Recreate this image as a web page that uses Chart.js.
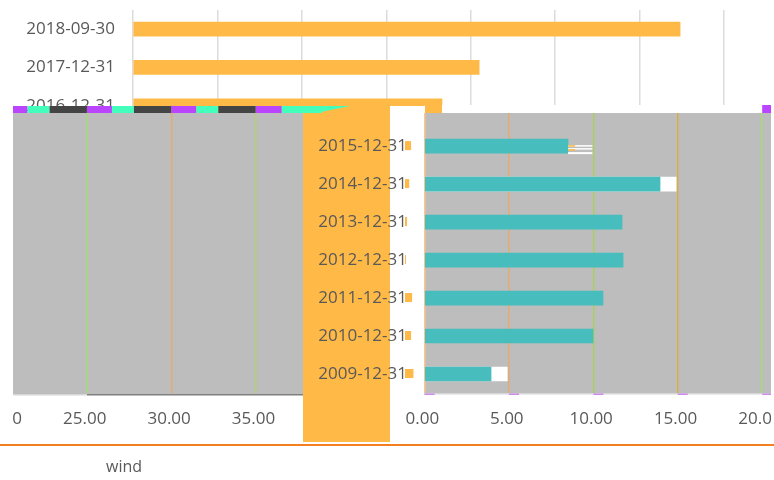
<!DOCTYPE html>
<html>
<head>
<meta charset="utf-8">
<script src="https://cdn.jsdelivr.net/npm/chart.js@4/dist/chart.umd.js"></script>
<style>
  body { margin: 0; background: #fff; overflow: hidden; }
  canvas { position: absolute; left: 0; top: 0; }
  #legendText { position: absolute; left: 106px; top: 455px; font: 16px "Open Sans"; color: #595959; }
</style>
</head>
<body>
<canvas id="backChart" width="774" height="480"></canvas>
<canvas id="frontChart" width="774" height="480"></canvas>
<div id="legendText">wind</div>
<script>
const categories = ["2018-09-30", "2017-12-31", "2016-12-31", "2015-12-31", "2014-12-31",
  "2013-12-31", "2012-12-31", "2011-12-31", "2010-12-31", "2009-12-31"];
// top layer of the picture, only the first three rows can be read
const upperValues = [32.4, 20.5, 18.3, null, null, null, null, null, null, null];
// teal bars of the displaced layer
const windValues = [null, null, null, 8.5, 13.95, 11.7, 11.76, 10.57, 9.98, 3.94];
// white remains sticking out behind the teal bars
const ghostValues = [null, null, null, null, 14.9, null, null, null, null, 4.9];
// orange slivers left behind the labels (width in axis units)
const sliverValues = [0, 0, 0, 0.36, 0.25, 0.12, 0.06, 0.42, 0.36, 0.5];

const orange = "#FFB946";
const teal = "#48BDBD";
const grey = "#BDBDBD";
const textColor = "#595959";
const tickFont = { family: "Open Sans", size: 17 };

Chart.defaults.devicePixelRatio = 1;

const backChart = new Chart(document.getElementById("backChart"), {
  type: "bar",
  data: {
    labels: categories,
    datasets: [{ label: "upper", data: upperValues, backgroundColor: orange, barThickness: 14 }],
  },
  options: {
    indexAxis: "y",
    responsive: false,
    animation: false,
    layout: { padding: { top: 10, right: 50, bottom: 87 } },
    plugins: { legend: { display: false }, tooltip: { enabled: false } },
    scales: {
      x: {
        min: 0,
        max: 35,
        ticks: { display: false, stepSize: 5 },
        border: { display: false },
        grid: { color: "#DCDCDC", lineWidth: 1.5, drawTicks: false },
        afterFit: (scale) => {
          scale.height = 0;
          scale.paddingLeft = 0;
          scale.paddingRight = 0;
        },
      },
      y: {
        ticks: { color: textColor, font: tickFont, padding: 18, autoSkip: false },
        border: { display: false },
        grid: { display: false, drawTicks: false },
        afterFit: (scale) => {
          scale.width = 133;
          scale.paddingTop = 0;
          scale.paddingBottom = 0;
        },
      },
    },
  },
});

// grid line tints of the displaced layer
const gridColors = {
  "-20": "#A4DC78", "-15": "#E2AC70", "-10": "#B4D070",
  "0": "#FFC48C", "5": "#E2AC70", "10": "#A8D060", "15": "#D8B040", "20": "#A4DC78",
};

function tickLabel(value) {
  if (value === -5) return "";
  // trailing space nudges the centred label left like in the picture
  return (value < 0 ? value + 45 : value).toFixed(2) + " ";
}

const glitchLayer = {
  id: "glitchLayer",
  beforeDraw(chart) {
    const ctx = chart.ctx;
    const x = chart.scales.x;
    const y = chart.scales.y;
    ctx.save();
    ctx.fillStyle = "#fff";
    ctx.fillRect(0, 113, 774, 367);
    ctx.fillStyle = grey;
    ctx.fillRect(13, 113, 758, 281);
    ctx.fillStyle = orange;
    ctx.fillRect(303, 113, 87, 329);
    ctx.fillStyle = "#fff";
    ctx.fillRect(390, 113, 34, 282);

    // slivers next to the labels
    ctx.fillStyle = orange;
    sliverValues.forEach((w, i) => {
      if (!w) return;
      const px = w / 5 * (x.getPixelForValue(5) - x.getPixelForValue(0));
      ctx.fillRect(405, y.getPixelForValue(i) - 5, px, 9);
    });

    // base lines of the grey block
    ctx.fillStyle = "#D6D6D6";
    ctx.fillRect(13, 394, 74, 1.5);
    ctx.fillRect(424, 393, 347, 1.5);
    ctx.fillStyle = "#808080";
    ctx.fillRect(87, 394, 216, 1.5);
    ctx.fillStyle = "#F47F20";
    ctx.fillRect(0, 444, 774, 2);
    ctx.restore();
  },
  afterDraw(chart) {
    const ctx = chart.ctx;
    const x = chart.scales.x;
    const y = chart.scales.y;
    const step = x.getPixelForValue(5) - x.getPixelForValue(0);
    ctx.save();
    // nothing of this layer above the seam
    ctx.clearRect(0, 0, 774, 105);
    ctx.clearRect(425, 105, 18, 8);
    ctx.fillStyle = "#fff";
    ctx.fillRect(442, 105, 332, 8);
    ctx.fillRect(390, 106, 35, 7);
    ctx.fillRect(0, 395, 13, 45);

    // seam strip, repeats with the axis ticks
    x.ticks.forEach((tick) => {
      const left = x.getPixelForValue(tick.value);
      if (tick.value < -10) {
        ctx.fillStyle = "#BB44FF";
        ctx.fillRect(Math.max(left, 13), 106, left + 25 - Math.max(left, 13), 7);
        ctx.fillStyle = "#44FFBB";
        ctx.fillRect(left + 25, 106, 22, 7);
        ctx.fillStyle = "#444444";
        ctx.fillRect(left + 47, 106, step - 47, 7);
      }
      if (tick.value >= 0) {
        ctx.fillStyle = "#CC88EE";
        ctx.fillRect(left, 393.5, 10, 1.5);
      }
      if (tick.value === 20) {
        ctx.fillStyle = "#BB44FF";
        ctx.fillRect(left, 105, 12, 8);
      }
    });
    const lastLeft = x.getPixelForValue(-10);
    ctx.fillStyle = "#BB44FF";
    ctx.fillRect(lastLeft, 106, 26, 7);
    ctx.fillStyle = "#44FFBB";
    ctx.fillRect(lastLeft + 26, 106, 40, 7);
    ctx.beginPath();
    ctx.moveTo(321, 106);
    ctx.lineTo(350, 106);
    ctx.lineTo(316, 113);
    ctx.closePath();
    ctx.fill();

    // the displaced layer stops short of the right edge
    ctx.fillStyle = "#fff";
    ctx.fillRect(771, 105, 3, 335);

    // striped remains next to the 2015 bar
    const rowY = y.getPixelForValue(3);
    const barEnd = x.getPixelForValue(windValues[3]);
    const stopX = x.getPixelForValue(10) - 1;
    ctx.fillRect(barEnd, rowY - 1, stopX - barEnd, 1.5);
    ctx.fillRect(barEnd, rowY + 2, stopX - barEnd, 1.5);
    ctx.fillRect(barEnd, rowY + 6, stopX - barEnd, 2);
    ctx.fillStyle = orange;
    ctx.fillRect(barEnd, rowY - 1, 7, 1.5);
    ctx.fillRect(barEnd, rowY + 3, 7, 1.5);
    ctx.restore();
  },
};

const frontChart = new Chart(document.getElementById("frontChart"), {
  type: "bar",
  data: {
    labels: categories,
    datasets: [
      { label: "wind", data: windValues, backgroundColor: teal, barThickness: 14, grouped: false, order: 1 },
      { label: "ghost", data: ghostValues, backgroundColor: "#fff", barThickness: 14, grouped: false, order: 2 },
    ],
  },
  options: {
    indexAxis: "y",
    responsive: false,
    animation: false,
    layout: { padding: { top: 9 } },
    plugins: { legend: { display: false }, tooltip: { enabled: false } },
    scales: {
      x: {
        position: "bottom",
        min: -25.15,
        max: 20.7,
        ticks: {
          color: textColor,
          font: tickFont,
          stepSize: 5,
          padding: 16,
          maxRotation: 0,
          autoSkip: false,
          includeBounds: false,
          callback: (value) => tickLabel(value),
        },
        border: { display: false },
        grid: {
          drawTicks: false,
          lineWidth: 1.5,
          color: (ctx) => gridColors[ctx.tick.value] || "rgba(0,0,0,0)",
        },
        afterFit: (scale) => {
          scale.height = 87;
          scale.paddingLeft = 0;
          scale.paddingRight = 0;
        },
      },
      y: {
        position: { x: -1.04 },
        ticks: {
          color: textColor,
          font: tickFont,
          autoSkip: false,
          callback: (value, i) => (i < 3 ? "" : categories[i]),
        },
        border: { display: false },
        grid: { display: false, drawTicks: false },
      },
    },
  },
  plugins: [glitchLayer],
});
</script>
</body>
</html>
